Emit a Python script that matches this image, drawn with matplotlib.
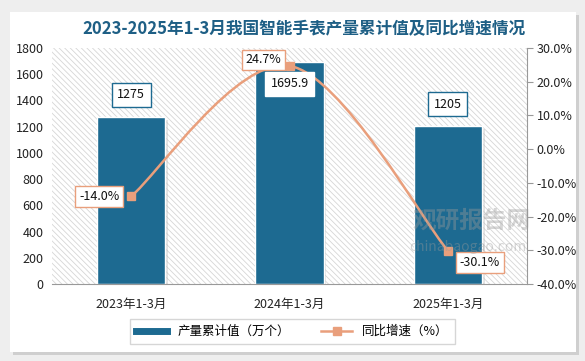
import matplotlib.pyplot as plt
import matplotlib.patches as mpatches
import matplotlib.patheffects as pe
from matplotlib.path import Path
from matplotlib.lines import Line2D

plt.rcParams['font.family'] = ['Noto Sans CJK SC', 'DejaVu Sans']
plt.rcParams['hatch.color'] = '#d6d6d6'
plt.rcParams['hatch.linewidth'] = 0.6

categories = ['2023年1-3月', '2024年1-3月', '2025年1-3月']
output = [1275, 1695.9, 1205]
growth = [-14.0, 24.7, -30.1]
output_labels = ['1275', '1695.9', '1205']
growth_labels = ['-14.0%', '24.7%', '-30.1%']

BAR = '#1d6a91'
LINE = '#e99f7c'

fig = plt.figure(figsize=(5.85, 3.61), dpi=100)
fig.patch.set_facecolor('#eeeeee')

# white card with shadow
card = mpatches.Rectangle((10 / 585, 9 / 361), 566 / 585, 340 / 361, transform=fig.transFigure,
                          facecolor='white', edgecolor='none', zorder=-5,
                          path_effects=[pe.SimplePatchShadow(offset=(2, -2), shadow_rgbFace='#c8c8c8', alpha=0.8),
                                        pe.Normal()])
fig.patches.append(card)

ax = fig.add_axes([52 / 585, 1 - 284 / 361, 475 / 585, 236 / 361])
ax.set_facecolor('white')
ax.add_patch(mpatches.Rectangle((0, 0), 1, 1, transform=ax.transAxes, facecolor='white',
                                edgecolor='#d6d6d6', linewidth=0, hatch='\\\\\\\\\\\\', zorder=0))

x = list(range(len(categories)))
bars = ax.bar(x, output, width=0.43, color=BAR, edgecolor='white', linewidth=1, zorder=2,
              path_effects=[pe.SimplePatchShadow(offset=(2, -2), shadow_rgbFace='#bbbbbb', alpha=0.4),
                            pe.Normal()])
ax.set_xlim(-0.5, 2.5)
ax.set_ylim(0, 1800)
ax.set_yticks(range(0, 1801, 200))
ax.set_xticks(x)
ax.set_xticklabels(categories)
ax.tick_params(axis='both', labelsize=9, colors='#222222', length=0, pad=6)
ax.tick_params(axis='x', pad=10)
for s in ['top', 'right', 'left']:
    ax.spines[s].set_visible(False)
ax.spines['bottom'].set_color('#999999')

ax2 = ax.twinx()
ax2.set_ylim(-40, 30)
ax2.set_yticks(range(-40, 31, 10))
ax2.set_yticklabels([f'{v:.1f}%' for v in range(-40, 31, 10)])
ax2.tick_params(axis='y', labelsize=9, colors='#222222', length=4, color='#999999', pad=3)
for s in ['top', 'left', 'bottom']:
    ax2.spines[s].set_visible(False)
ax2.spines['right'].set_color('#999999')

# smoothed line through the growth points
pts = list(zip(x, growth))
verts = [pts[0]]
codes = [Path.MOVETO]
for i in range(len(pts) - 1):
    p0 = pts[i - 1] if i > 0 else pts[i]
    p1 = pts[i]
    p2 = pts[i + 1]
    p3 = pts[i + 2] if i + 2 < len(pts) else pts[i + 1]
    c1 = (p1[0] + (p2[0] - p0[0]) / 6, p1[1] + (p2[1] - p0[1]) / 6)
    c2 = (p2[0] - (p3[0] - p1[0]) / 6, p2[1] - (p3[1] - p1[1]) / 6)
    verts += [c1, c2, p2]
    codes += [Path.CURVE4] * 3
ax2.add_patch(mpatches.PathPatch(Path(verts, codes), facecolor='none', edgecolor=LINE, lw=1.8, zorder=3))
ax2.plot(x, growth, ls='none', marker='s', ms=6, color=LINE, zorder=4)

# value labels
bar_offsets = [(0, 22), (0, -22), (0, 22)]
bar_edges = [BAR, 'white', BAR]
for xi, v, lab, off, ec in zip(x, output, output_labels, bar_offsets, bar_edges):
    ax2.annotate(lab, xy=(xi, -40 + v / 1800 * 70), xytext=off, textcoords='offset pixels',
                 ha='center', va='center', fontsize=9, color='#111111', zorder=6,
                 bbox=dict(boxstyle='square,pad=0.45', fc='white', ec=ec, lw=1))

g_offsets = [(-32, 0), (-26, 6), (32, -12)]
for xi, v, lab, off in zip(x, growth, growth_labels, g_offsets):
    ax2.annotate(lab, xy=(xi, v), xytext=off, textcoords='offset pixels',
                 ha='center', va='center', fontsize=9, color='#111111', zorder=6,
                 bbox=dict(boxstyle='square,pad=0.3', fc='white', ec=LINE, lw=1))

# watermark
fig.text(0.705, 0.39, '观研报告网', fontsize=17, fontweight='bold', color='#9a9a9a', alpha=0.4,
         ha='left', va='center', zorder=5)
fig.text(0.70, 0.315, 'chinabaogao.com', fontsize=10, color='#9a9a9a', alpha=0.4,
         ha='left', va='center', zorder=5)

fig.text(0.52, 0.918, '2023-2025年1-3月我国智能手表产量累计值及同比增速情况', fontsize=12,
         fontweight='bold', color='#1e5f85', ha='center', va='center')

handles = [Line2D([], [], color=BAR, lw=5),
           Line2D([], [], color=LINE, lw=1.8, marker='s', ms=6)]
fig.legend(handles, ['产量累计值（万个）', '同比增速（%）'], loc='center', bbox_to_anchor=(0.5, 0.082),
           ncol=2, fontsize=9, frameon=True, fancybox=False, edgecolor='#cccccc',
           handlelength=2.5, columnspacing=2.5, borderpad=0.5)

fig.savefig('out.png', dpi=100, facecolor=fig.get_facecolor())
